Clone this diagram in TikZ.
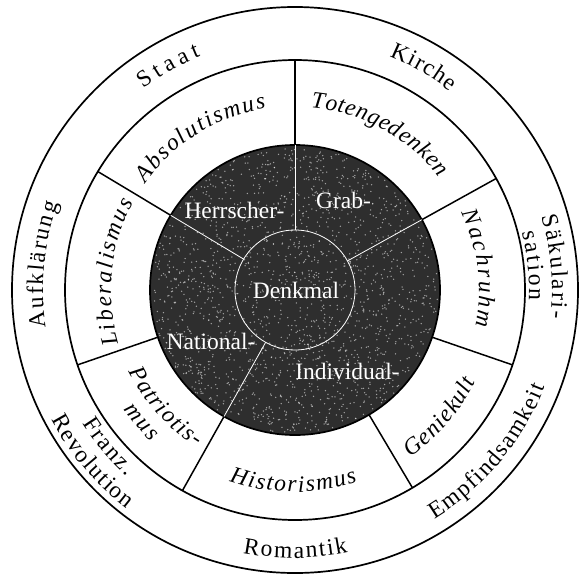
\documentclass[tikz,border=0pt]{standalone}
\usepackage{fontspec}
\setmainfont{Liberation Serif}
\usetikzlibrary{decorations.text}
\newcommand\ArcText[5]{%
  \path[decorate,decoration={text along path,text={|#4|#5},text align=fit to path}]
    (#2:#1) arc[start angle=#2,end angle=#3,radius=#1];}
\newcommand\rmf{\fontsize{23.5}{23.5}\selectfont}
\newcommand\itf{\fontsize{23.5}{23.5}\selectfont\itshape}
\begin{document}
\begin{tikzpicture}[x=1pt,y=1pt,
  ring/.style={line width=1.7pt},
  spoke/.style={line width=1.5pt},
  inline/.style={draw=white,line width=0.8pt},
  speck/.style={fill=white,opacity=0.55},
  darklabel/.style={text=white,font=\fontsize{23.5}{23.5}\selectfont,inner sep=0pt}]
\useasboundingbox (-295,-284) rectangle (290,290);
\fill[white] (-295,-284) rectangle (290,290);
% circles
\draw[ring] (0,0) circle[radius=283pt];
\draw[ring] (0,0) circle[radius=230pt];
\fill[black!82] (0,0) circle[radius=145pt];
% speckled texture of the dark disc
\pgfmathsetseed{4711}
\foreach \i in {1,...,1800}{
  \pgfmathsetmacro\rr{143*sqrt(rnd)}
  \pgfmathsetmacro\tt{360*rnd}
  \fill[speck] (\tt:\rr pt) circle[radius=0.75pt];
}
\draw[ring] (0,0) circle[radius=145pt];
% spokes of the white ring
\foreach \a in {90,29,-19,-59.3,-119.3,-161,149}
  \draw[spoke] (\a:145pt) -- (\a:230pt);
% inner white lines
\draw[inline] (0,0) circle[radius=60pt];
\foreach \a in {90,29,149,-119.3}
  \draw[inline] (\a:60pt) -- (\a:145pt);
% dark circle labels
\node[darklabel] (herrscher) at (-60.5,79.5) {Herrscher-};
\node[darklabel] (grab) at (48.5,90) {Grab-};
\node[darklabel] (denkmal) at (1,0) {Denkmal};
\node[darklabel] (national) at (-84,-51.5) {National-};
\node[darklabel] (individual) at (52.5,-81) {Individual-};
% white ring texts (italic)
\ArcText{184pt}{144.5}{99}{\itf}{Absolutismus}
\ArcText{183pt}{85}{38}{\itf}{Totengedenken}
\ArcText{184pt}{25}{-11.5}{\itf}{Nachruhm}
\ArcText{184pt}{197}{151.5}{\itf}{Liberalismus}
\ArcText{202pt}{251}{288}{\itf}{Historismus}
\ArcText{203pt}{-55.5}{-27}{\itf}{Geniekult}
\ArcText{185pt}{206}{238}{\itf}{Patriotis-}
\ArcText{209pt}{215}{226.5}{\itf}{mus}
% outer ring texts
\ArcText{252pt}{127}{112}{\rmf}{Staat}
\ArcText{252pt}{68}{52}{\rmf}{Kirche}
\ArcText{252pt}{188.5}{160}{\rmf}{Aufklärung}
\ArcText{257pt}{16.5}{-6.3}{\rmf}{Säkulari-}
\ArcText{234pt}{14.3}{-2.5}{\rmf}{sation}
\ArcText{268pt}{258.8}{281.4}{\rmf}{Romantik}
\ArcText{268pt}{-58.7}{-21.2}{\rmf}{Empfindsamkeit}
\ArcText{251pt}{212}{228}{\rmf}{Franz.}
\ArcText{276pt}{208}{232.5}{\rmf}{Revolution}
\end{tikzpicture}
\end{document}
